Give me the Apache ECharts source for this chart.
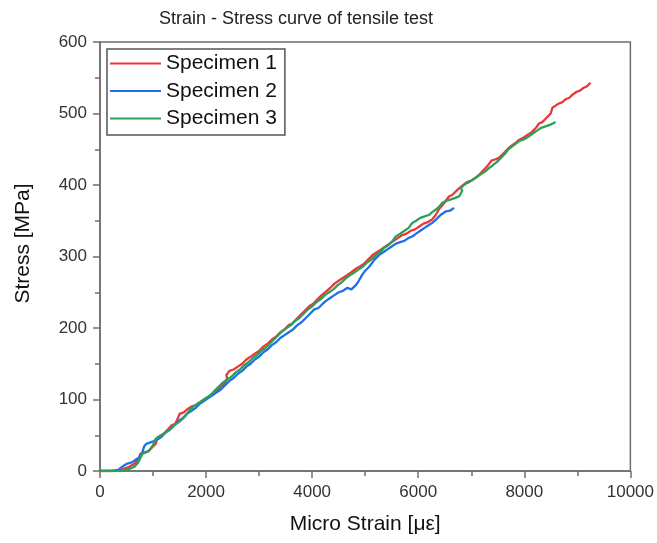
<!DOCTYPE html>
<html>
<head>
<meta charset="utf-8">
<script src="https://cdn.jsdelivr.net/npm/echarts@6/dist/echarts.min.js"></script>
<style>html,body{margin:0;padding:0;background:#fff}#c{width:657px;height:543px}</style>
</head>
<body>
<div id="c"></div>
<script>
const titleText = 'Strain - Stress curve of tensile test';
const xName = 'Micro Strain [με]';
const yName = 'Stress [MPa]';
const seriesNames = ['Specimen 1', 'Specimen 2', 'Specimen 3'];
const xTicks = [0, 2000, 4000, 6000, 8000, 10000];
const yTicks = [0, 100, 200, 300, 400, 500, 600];

const specimen1 = [[0,0],[200,0],[350,1],[450,3],[550,6],[650,10],[720,16],[760,24],[820,26],[900,27],[980,33],[1050,38],[1080,46],[1150,50],[1200,52],[1280,58],[1350,64],[1420,66],[1470,74],[1500,80],[1580,82],[1640,86],[1720,90],[1800,92],[1880,96],[1960,100],[2050,104],[2120,108],[2200,112],[2280,118],[2350,122],[2400,130],[2380,134],[2440,140],[2520,142],[2600,146],[2680,150],[2760,156],[2840,160],[2920,164],[3000,168],[3080,174],[3160,178],[3240,184],[3320,188],[3400,194],[3480,198],[3560,204],[3620,206],[3700,212],[3780,218],[3860,224],[3940,230],[4020,234],[4100,240],[4180,246],[4260,251],[4340,256],[4420,262],[4500,266],[4580,270],[4660,274],[4740,278],[4825,283],[4900,286],[4980,290],[5060,296],[5140,302],[5220,306],[5300,310],[5380,314],[5460,318],[5540,322],[5620,326],[5700,330],[5780,332],[5860,336],[5940,338],[6020,342],[6100,346],[6180,348],[6265,352],[6330,358],[6390,366],[6460,372],[6520,378],[6580,384],[6640,386],[6710,391],[6780,396],[6850,400],[6920,404],[7000,406],[7080,410],[7147,414],[7220,420],[7300,426],[7380,434],[7460,436],[7520,438],[7580,442],[7660,448],[7740,454],[7820,458],[7900,463],[7980,466],[8060,470],[8140,474],[8220,480],[8277,486],[8340,488],[8420,494],[8497,500],[8530,508],[8590,511],[8650,514],[8720,516],[8780,520],[8850,522],[8904,526],[8980,530],[9050,532],[9120,536],[9180,538],[9250,543]];

const specimen2 = [[0,0],[250,0],[350,2],[420,6],[500,10],[600,12],[680,16],[760,20],[800,26],[830,34],[870,38],[950,40],[1020,42],[1080,44],[1160,48],[1240,54],[1320,58],[1400,64],[1480,70],[1560,74],[1640,80],[1720,84],[1800,88],[1880,94],[1960,98],[2040,102],[2120,106],[2200,110],[2280,114],[2360,120],[2440,126],[2520,130],[2600,136],[2680,140],[2760,146],[2840,150],[2920,156],[3000,160],[3080,166],[3160,170],[3240,176],[3320,180],[3400,186],[3480,190],[3560,194],[3640,198],[3720,204],[3800,208],[3880,214],[3960,220],[4040,226],[4120,228],[4200,234],[4260,238],[4340,242],[4420,246],[4500,250],[4580,252],[4660,256],[4740,254],[4825,260],[4880,266],[4940,274],[5000,280],[5080,286],[5180,296],[5260,302],[5340,306],[5420,310],[5500,314],[5580,318],[5660,320],[5740,322],[5820,326],[5888,328],[5960,332],[6040,336],[6120,340],[6200,344],[6265,347],[6340,352],[6420,358],[6520,363],[6600,364],[6676,368]];

const specimen3 = [[0,0],[300,0],[450,1],[550,3],[650,6],[720,12],[760,18],[800,24],[860,26],[920,28],[1000,36],[1040,44],[1100,48],[1160,50],[1240,54],[1320,58],[1400,64],[1480,68],[1540,72],[1600,76],[1680,84],[1760,90],[1840,94],[1920,98],[2000,102],[2080,106],[2160,112],[2240,118],[2320,124],[2400,128],[2480,132],[2560,138],[2640,142],[2720,148],[2800,152],[2880,158],[2960,162],[3040,168],[3120,172],[3200,178],[3280,184],[3360,190],[3440,196],[3520,200],[3600,204],[3680,210],[3760,214],[3840,220],[3920,226],[4000,230],[4080,236],[4160,240],[4240,246],[4320,250],[4400,254],[4480,260],[4560,264],[4640,270],[4720,274],[4800,278],[4880,282],[4960,286],[5040,292],[5120,296],[5200,302],[5280,306],[5360,312],[5440,316],[5520,322],[5578,328],[5660,332],[5740,336],[5820,340],[5888,347],[5960,350],[6040,354],[6120,356],[6200,358],[6264,362],[6340,366],[6400,370],[6451,375],[6540,378],[6620,380],[6700,382],[6770,384],[6830,392],[6800,396],[6896,402],[6960,404],[7040,408],[7120,412],[7200,416],[7280,420],[7340,424],[7397,427],[7480,432],[7560,438],[7640,444],[7700,450],[7774,454],[7840,458],[7920,462],[8000,464],[8088,468],[8160,472],[8240,476],[8320,480],[8400,482],[8480,484],[8590,488]];

const colors = ['#ee3636', '#1f6fe8', '#2ca05a'];
const font = 'Liberation Sans, Arial, sans-serif';
const axisColor = '#6e6e6e';

const chart = echarts.init(document.getElementById('c'));
const mk = (name, data, color) => ({
  name, type: 'line', data, showSymbol: false, symbol: 'none',
  lineStyle: { color, width: 2.3 }, itemStyle: { color }, animation: false
});
chart.setOption({
  animation: false,
  backgroundColor: '#fff',
  title: { text: titleText, left: 154, top: 5,
    textStyle: { fontFamily: font, fontSize: 18, fontWeight: 'normal', color: '#222' } },
  grid: { left: 100, right: 26, top: 42, bottom: 72, show: true,
    borderColor: axisColor, borderWidth: 1.5 },
  legend: {
    data: seriesNames, orient: 'vertical', left: 107, top: 49,
    icon: 'rect', itemWidth: 51, itemHeight: 2, itemGap: 6.5,
    padding: [4, 8, 6, 3],
    backgroundColor: '#fff', borderColor: '#555', borderWidth: 1.5,
    textStyle: { fontFamily: font, fontSize: 21, color: '#111' }
  },
  xAxis: {
    type: 'value', min: xTicks[0], max: xTicks[xTicks.length - 1], interval: 2000,
    name: xName, nameLocation: 'middle', nameGap: 43,
    nameTextStyle: { fontFamily: font, fontSize: 21, color: '#111' },
    axisLine: { show: true, onZero: false, lineStyle: { color: axisColor, width: 1.5 } },
    axisTick: { show: true, inside: false, length: 7, lineStyle: { color: axisColor, width: 1.5 } },
    minorTick: { show: true, splitNumber: 2, length: 5, lineStyle: { color: axisColor, width: 1.5 } },
    axisLabel: { fontFamily: font, fontSize: 17, color: '#333', margin: 13,
      formatter: v => String(v) },
    splitLine: { show: false }
  },
  yAxis: {
    type: 'value', min: yTicks[0], max: yTicks[yTicks.length - 1], interval: 100,
    name: yName, nameLocation: 'middle', nameGap: 66,
    nameTextStyle: { fontFamily: font, fontSize: 21, color: '#111', padding: [0, 0, 0, 26] },
    axisLine: { show: true, onZero: false, lineStyle: { color: axisColor, width: 1.5 } },
    axisTick: { show: true, inside: false, length: 7, lineStyle: { color: axisColor, width: 1.5 } },
    minorTick: { show: true, splitNumber: 2, length: 5, lineStyle: { color: axisColor, width: 1.5 } },
    axisLabel: { fontFamily: font, fontSize: 17, color: '#333', margin: 13,
      formatter: v => String(v) },
    splitLine: { show: false }
  },
  series: [
    mk(seriesNames[0], specimen1, colors[0]),
    mk(seriesNames[1], specimen2, colors[1]),
    mk(seriesNames[2], specimen3, colors[2])
  ]
});
</script>
</body>
</html>
